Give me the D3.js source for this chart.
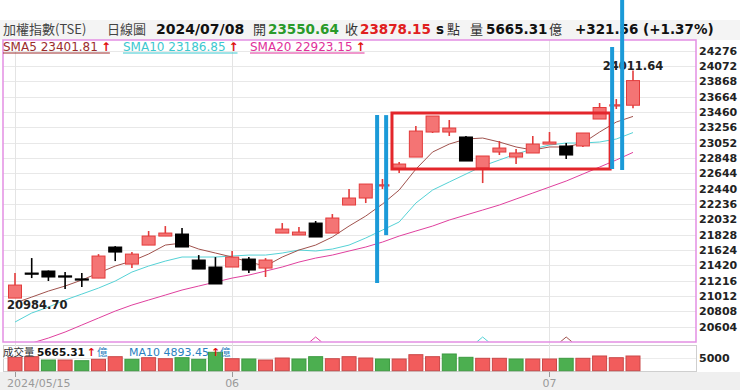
<!DOCTYPE html>
<html><head><meta charset="utf-8">
<script src="https://cdn.jsdelivr.net/npm/d3@7"></script>
<style>html,body{margin:0;padding:0;background:#fff;} svg{display:block}</style>
</head><body><svg id="c" width="740" height="390"></svg>
<script>
// ---------- data ----------
const dates = ["2024/05/15","2024/05/16","2024/05/17","2024/05/20","2024/05/21","2024/05/22","2024/05/23","2024/05/24","2024/05/27","2024/05/28","2024/05/29","2024/05/30","2024/05/31",
"2024/06/03","2024/06/04","2024/06/05","2024/06/06","2024/06/07","2024/06/11","2024/06/12","2024/06/13","2024/06/14","2024/06/17","2024/06/18","2024/06/19","2024/06/20","2024/06/21","2024/06/24","2024/06/25","2024/06/26","2024/06/27","2024/06/28",
"2024/07/01","2024/07/02","2024/07/03","2024/07/04","2024/07/05","2024/07/08"];
const opens  = [20984.70,21318,21345,21280,21240,21251,21664,21437,21690,21810,21837,21491,21398,21398,21504,21384,21850,21824,21983,21850,22223,22316,22485,22702,22861,23194,23194,23128,22715,22928,22861,22915,23034,23008,23008,23367,23550,23550.64];
const highs  = [21318,21517,21352,21331,21318,21570,21676,21597,21877,21943,21917,21557,21530,21610,21530,21517,21983,21930,22010,22103,22436,22502,22569,22795,23274,23407,23354,23141,22875,23074,22968,23141,23194,23048,23181,23580,23633,24011.64];
const lows   = [20984.70,21251,21212,21105,21132,21251,21477,21384,21690,21810,21664,21371,21172,21398,21318,21265,21850,21824,21797,21850,22223,22249,22436,22649,22861,23181,23141,22808,22515,22888,22768,22915,23034,22835,22994,23367,23500,23510];
const closes = [21158,21310,21265,21275,21236,21544,21597,21570,21810,21850,21664,21371,21172,21530,21358,21491,21903,21863,21797,22050,22316,22502,22492,22768,23207,23407,23247,22808,22875,22981,22915,23034,23061,22888,23181,23520,23556,23878.15];
const volumes = [5160,5400,4120,4120,3850,4390,5400,4390,5010,4620,5010,4390,7090,4620,4510,4120,4890,4510,5400,4620,5400,4890,4510,4510,6170,5400,6440,5160,4778,4778,4509,4509,4509,4778,4778,5670,5010,5665.31];
const sma5  = [20919,20998,21078,21145,21225,21318,21411,21477,21571,21690,21717,21637,21584,21531,21464,21411,21531,21624,21690,21797,21943,22076,22236,22422,22700,22928,23034,23101,23114,23061,22995,22955,22995,22995,23048,23194,23327,23401.81];
const sma10 = [20666,20786,20865,20959,21038,21118,21211,21331,21411,21477,21531,21531,21531,21544,21557,21557,21584,21624,21611,21637,21690,21784,21890,21997,22249,22422,22529,22635,22742,22822,22901,22968,23021,23048,23048,23061,23101,23186.85];
const sma20 = [20307,20386,20453,20533,20626,20719,20812,20892,20959,21025,21092,21145,21198,21251,21291,21344,21398,21464,21517,21557,21611,21664,21730,21810,21877,21943,22023,22090,22156,22223,22303,22382,22462,22542,22635,22728,22822,22923.15];
const yTicks = [24276,24072,23868,23664,23460,23256,23052,22848,22644,22440,22236,22032,21828,21624,21420,21216,21012,20808,20604];
const volTicks = [5000];
const monthTicks = ["2024/05/15","2024/06/03","2024/07/01"];
const monthLabels = ["2024/05/15","06","07"];
const markerDates = ["2024/06/11","2024/06/25","2024/07/02"]; // deduction markers: SMA20, SMA10, SMA5
const boxAnno = {i0:22.57, i1:35.63, top:23447, bottom:22702};
const blueLines = [{i:21.68,from:23419,to:21185},{i:22.22,from:23419,to:21822},{i:35.75,from:24325,to:22702},{i:36.35,from:24951,to:22689}];

// ---------- layout ----------
const svg = d3.select("#c");
const P = {l:3, r:696, t:40, b:342};
const V = {t:345, b:371};
const C5="#a0524d", C10="#55d2d6", C20="#e0409e";
const RED="#e33b3b", REDF="#f47474", GREEN="#4caf50", GREENS="#3c9a40";
const FN="'DejaVu Sans', Verdana, sans-serif";
const CJK="'Noto Sans CJK TC', 'Noto Sans CJK SC', sans-serif";

const x = d3.scalePoint().domain(dates).range([15,633]);
const xi = d3.scaleLinear().domain([0,dates.length-1]).range([15,633]);
const y = d3.scaleLinear().domain([20604,24276]).range([326.7,50.7]);
const yv = d3.scaleLinear().domain([0,5665.31]).range([370.7,356]);

// backgrounds
svg.append("rect").attr("x",0).attr("y",0).attr("width",740).attr("height",390).attr("fill","#efefef");
svg.append("rect").attr("x",0).attr("y",0).attr("width",740).attr("height",20).attr("fill","#fff");
svg.append("rect").attr("x",0).attr("y",20).attr("width",740).attr("height",20).attr("fill","#f4f4f4");
svg.append("rect").attr("x",0).attr("y",40).attr("width",740).attr("height",332).attr("fill","#fff");

// clip
svg.append("clipPath").attr("id","mainclip").append("rect").attr("x",P.l).attr("y",P.t).attr("width",P.r-P.l).attr("height",P.b-P.t);

// gridlines
const grid = svg.append("g");
grid.selectAll("line.h").data(yTicks).join("line").attr("class","h")
  .attr("x1",P.l).attr("x2",P.r).attr("y1",d=>Math.round(y(d))+0.5).attr("y2",d=>Math.round(y(d))+0.5)
  .attr("stroke","#e8e8e8").attr("stroke-width",1);

// volume panel
svg.append("rect").attr("x",P.l+0.5).attr("y",V.t+0.5).attr("width",P.r-P.l).attr("height",V.b-V.t)
  .attr("fill","#fff").attr("stroke","#cfcfcf");
grid.raise();
svg.selectAll("line.vg").data(volTicks).join("line").attr("class","vg")
  .attr("x1",P.l).attr("x2",P.r).attr("y1",d=>Math.round(yv(d))+0.5).attr("y2",d=>Math.round(yv(d))+0.5)
  .attr("stroke","#ececec");
svg.selectAll("line.v").data(monthTicks).join("line").attr("class","v")
  .attr("x1",d=>Math.round(x(d))+0.5).attr("x2",d=>Math.round(x(d))+0.5).attr("y1",P.t).attr("y2",V.b)
  .attr("stroke","#e4e4e4");

// main panel content
const g = svg.append("g").attr("clip-path","url(#mainclip)");
const line = arr => d3.line().x((d,i)=>x(dates[i])).y(d=>y(d))(arr);
g.append("path").attr("d",line(sma20)).attr("fill","none").attr("stroke",C20).attr("stroke-width",1);
g.append("path").attr("d",line(sma10)).attr("fill","none").attr("stroke",C10).attr("stroke-width",1);
g.append("path").attr("d",line(sma5)).attr("fill","none").attr("stroke",C5).attr("stroke-width",1);

const candles = dates.map((d,i)=>({d,o:opens[i],h:highs[i],l:lows[i],c:closes[i]}));
const cw = 13;
const cg = g.append("g");
cg.selectAll("line.w").data(candles).join("line")
  .attr("x1",d=>x(d.d)).attr("x2",d=>x(d.d)).attr("y1",d=>y(d.h)).attr("y2",d=>y(d.l))
  .attr("stroke",d=>d.c>=d.o?RED:"#000").attr("stroke-width",1.6);
cg.selectAll("rect").data(candles).join("rect")
  .attr("x",d=>x(d.d)-cw/2).attr("width",cw)
  .attr("y",d=>y(Math.max(d.o,d.c))).attr("height",d=>Math.max(1.2,Math.abs(y(d.o)-y(d.c))))
  .attr("fill",d=>d.c>=d.o?REDF:"#000").attr("stroke",d=>d.c>=d.o?RED:"#000").attr("stroke-width",1);

// deduction markers
const mcol = [C20,C10,C5];
g.selectAll("path.mk").data(markerDates).join("path").attr("class","mk")
  .attr("d",d=>`M${x(d)-6},${P.b}L${x(d)},${P.b-5}L${x(d)+6},${P.b}`)
  .attr("fill","none").attr("stroke",(d,i)=>mcol[i]).attr("stroke-width",1);

// high / low labels
const hiI = d3.maxIndex(highs), loI = d3.minIndex(lows);
svg.append("text").attr("x",x(dates[hiI])).attr("y",y(highs[hiI])-1).attr("text-anchor","middle")
  .attr("font-family",FN).attr("font-weight","bold").attr("font-size",11.5).attr("fill","#222").text(highs[hiI].toFixed(2));
svg.append("text").attr("x",7).attr("y",y(lows[loI])+11).attr("text-anchor","start")
  .attr("font-family",FN).attr("font-weight","bold").attr("font-size",11.5).attr("fill","#222").text(lows[loI].toFixed(2));

// main border
svg.append("rect").attr("x",P.l).attr("y",P.t).attr("width",P.r-P.l).attr("height",P.b-P.t)
  .attr("fill","none").attr("stroke","#e38fe3").attr("stroke-width",1.5);

// y labels
svg.selectAll("text.yl").data(yTicks).join("text").attr("class","yl")
  .attr("x",699).attr("y",d=>y(d)+4).attr("font-family",FN).attr("font-weight","bold").attr("font-size",11).attr("fill","#222").text(d=>d);
svg.selectAll("text.vl").data(volTicks).join("text").attr("class","vl")
  .attr("x",699).attr("y",d=>yv(d)+4).attr("font-family",FN).attr("font-weight","bold").attr("font-size",11).attr("fill","#222").text(d=>d);

// volume bars
svg.append("g").selectAll("rect").data(volumes).join("rect")
  .attr("x",(d,i)=>x(dates[i])-7).attr("width",14)
  .attr("y",d=>yv(d)).attr("height",d=>yv(0)-yv(d))
  .attr("fill",(d,i)=>(i===0||closes[i]>=closes[i-1])?"#f25c5c":GREEN)
  .attr("stroke",(d,i)=>(i===0||closes[i]>=closes[i-1])?"#c94848":GREENS).attr("stroke-width",1);

// x axis ticks + labels
svg.selectAll("line.xt").data(monthTicks).join("line").attr("class","xt")
  .attr("x1",d=>Math.round(x(d))+0.5).attr("x2",d=>Math.round(x(d))+0.5).attr("y1",V.b+1).attr("y2",V.b+6).attr("stroke","#999");
svg.selectAll("text.xl").data(monthTicks).join("text").attr("class","xl")
  .attr("x",(d,i)=>i===0?7:x(d)).attr("y",386.5).attr("text-anchor",(d,i)=>i===0?"start":"middle")
  .attr("font-family",FN).attr("font-size",11).attr("fill","#9a9a9a").text((d,i)=>monthLabels[i]);

// header text
function t(xp,yp,str,opt){
  const e=svg.append("text").attr("x",xp).attr("y",yp).text(str)
    .attr("font-family",opt.f||FN).attr("font-size",opt.s||14).attr("fill",opt.c||"#111");
  if(opt.b) e.attr("font-weight","bold");
  return e;
}
const HB=34.3;
t(3,HB,"加權指數(TSE)",{f:CJK,s:13,c:"#444"});
t(107,HB,"日線圖",{f:CJK,s:13,c:"#444"});
t(156,HB,"2024/07/08",{b:1,c:"#111"});
t(253,HB,"開",{f:CJK,s:13,c:"#333"});
t(268,HB,"23550.64",{b:1,s:13.5,c:"#2a9a2a"});
t(345,HB,"收",{f:CJK,s:13,c:"#333"});
t(360,HB,"23878.15",{b:1,s:13.5,c:"#e02020"});
t(436,HB,"s",{b:1,s:13.5,c:"#111"});
t(447,HB,"點",{f:CJK,s:13,c:"#333"});
t(470,HB,"量",{f:CJK,s:13,c:"#333"});
t(486,HB,"5665.31",{b:1,s:13.5,c:"#111"});
t(549,HB,"億",{f:CJK,s:13,c:"#333"});
t(575,HB,"+321.56 (+1.37%)",{b:1,s:13.5,c:"#111"});

// legend row
const LB=50.5;
const legends=[{x:3,txt:"SMA5 "+sma5[sma5.length-1].toFixed(2),c:"#9b2d2d"},
               {x:123,txt:"SMA10 "+sma10[sma10.length-1].toFixed(2),c:"#3cc8cf"},
               {x:250,txt:"SMA20 "+sma20[sma20.length-1].toFixed(2),c:"#e0309a"}];
legends.forEach(L=>{
  const e=t(L.x,LB,L.txt,{s:12,c:L.c});
  const w=e.node().getComputedTextLength();
  t(L.x+w+3,LB,"↑",{s:12,b:1,c:"#e01010"});
  svg.append("line").attr("x1",L.x).attr("x2",L.x+w+12).attr("y1",LB+2.5).attr("y2",LB+2.5).attr("stroke",L.c).attr("stroke-width",1);
});

// volume labels
const VB=356;
t(3,VB,"成交量",{f:CJK,s:10.5,c:"#333"});
let e1=t(37,VB,volumes[volumes.length-1].toFixed(2),{s:10.5,b:1,c:"#111"});
let w1=e1.node().getComputedTextLength();
t(37+w1+2,VB,"↑",{s:11,b:1,c:"#e01010"});
t(97,VB,"億",{f:CJK,s:10.5,c:"#2a7fc0"});
let e2=t(129,VB,"MA10 4893.45",{s:11,c:"#2a7fc0"});
let w2=e2.node().getComputedTextLength();
t(129+w2+2,VB,"↑",{s:11,b:1,c:"#e01010"});
t(129+w2+11,VB,"億",{f:CJK,s:10.5,c:"#2a7fc0"});

// annotations
svg.append("rect").attr("x",xi(boxAnno.i0)).attr("y",y(boxAnno.top))
  .attr("width",xi(boxAnno.i1)-xi(boxAnno.i0)).attr("height",y(boxAnno.bottom)-y(boxAnno.top))
  .attr("fill","none").attr("stroke","#e3262b").attr("stroke-width",3);
svg.selectAll("line.bl").data(blueLines).join("line").attr("class","bl")
  .attr("x1",d=>xi(d.i)).attr("x2",d=>xi(d.i)).attr("y1",d=>y(d.from)).attr("y2",d=>y(d.to))
  .attr("stroke","#1b9ad8").attr("stroke-width",4);
</script></body></html>
